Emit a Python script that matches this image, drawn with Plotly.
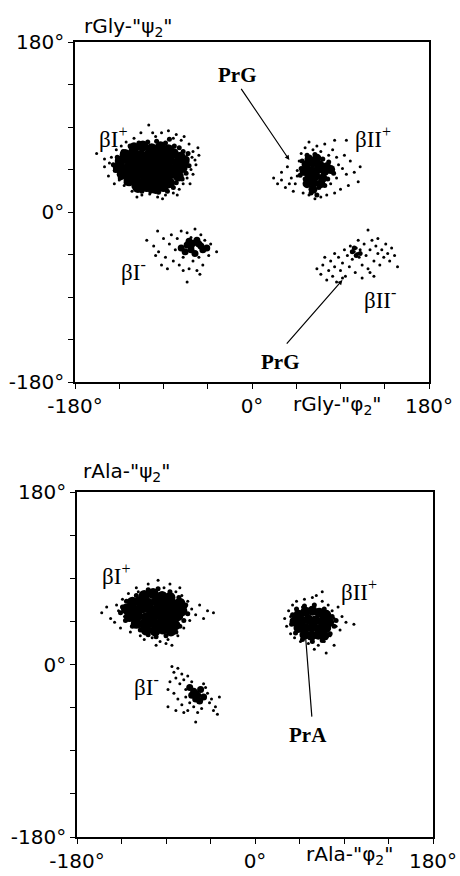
import plotly.graph_objects as go

# ---------------- data (phi, psi) in degrees ----------------
# rGly panel
gly_bIp_dense = [(-120,68),(-111,70),(-102,67),(-93,69),(-85,66),
    (-129,61),(-121,62),(-113,60),(-104,62),(-96,61),(-88,60),(-80,62),(-73,58),
    (-134,54),(-125,55),(-117,53),(-108,55),(-100,54),(-92,53),(-84,55),(-76,52),(-69,54),
    (-136,47),(-127,46),(-119,48),(-110,46),(-102,47),(-94,46),(-86,48),(-78,45),(-71,47),
    (-132,40),(-123,39),(-115,41),(-106,39),(-98,40),(-90,39),(-82,41),(-75,38),
    (-125,33),(-117,32),(-108,34),(-100,32),(-92,33),(-84,31),
    (-116,26),(-107,27),(-98,25),(-90,27)]
gly_bIp_mid = [(-141,50),(-139,44),(-137,58),(-131,64),(-124,70),(-115,73),(-106,74),(-97,75),
    (-88,73),(-79,70),(-70,64),(-66,56),(-64,49),(-67,41),(-71,35),(-77,31),(-80,26),(-86,22),
    (-95,21),(-103,22),(-112,22),(-120,27),(-128,31),(-134,36),(-84,77),(-74,68),(-65,62)]
gly_bIp_sparse = [(-158,62),(-150,48),(-146,38),(-143,58),(-140,30),(-138,66),(-128,74),(-120,78),
    (-105,92),(-98,80),(-92,84),(-80,78),(-72,76),(-64,72),(-60,64),(-58,55),(-55,68),(-62,45),
    (-66,36),(-70,30),(-74,24),(-80,20),(-88,18),(-96,16),(-104,19),(-112,18),(-122,22),(-130,28),
    (-135,34),(-66,60),(-60,40),(-57,50),(-85,86),(-113,84),(-140,44),(-145,52),(-150,56),
    (-133,70),(-101,84),(-77,82),(-69,80),(-61,58),(-54,60),(-63,30),(-76,18),(-91,14),(-117,16)]
gly_bIIp_dense = [(55,50),(62,52),(69,50),(76,48),(53,43),(60,44),(67,45),(74,43),(80,45),
    (58,37),(65,38),(72,36),(63,31),(70,30),(58,56),(66,57),(62,24),(56,30)]
gly_bIIp_mid = [(50,46),(51,54),(56,60),(64,61),(72,56),(78,53),(83,41),(77,35),(68,26),(60,20),
    (54,35),(49,39),(66,18),(74,28)]
gly_bIIp_sparse = [(22,36),(26,30),(30,42),(34,26),(36,48),(40,36),(44,30),(46,44),(42,22),(48,54),
    (50,62),(54,68),(58,74),(62,66),(66,70),(70,64),(74,72),(78,60),(82,66),(86,58),(88,50),(92,46),
    (96,40),(100,54),(104,42),(108,32),(110,48),(98,28),(90,24),(84,20),(80,30),(76,18),(70,16),
    (64,14),(58,18),(52,20),(86,36),(94,60),(84,76),(96,76),(50,40),(46,38),(38,30),(30,34)]
gly_bIm_dense = [(-72,-38),(-66,-35),(-60,-33),(-56,-30),(-52,-36),(-62,-40),(-68,-42),(-58,-44),
    (-50,-40),(-46,-38),(-64,-31),(-54,-34),(-62,-36)]
gly_bIm_sparse = [(-107,-30),(-96,-20),(-100,-36),(-95,-42),(-90,-28),(-88,-48),(-84,-34),(-82,-24),
    (-80,-52),(-78,-40),(-76,-28),(-74,-56),(-72,-20),(-70,-48),(-66,-22),(-64,-60),(-62,-27),
    (-60,-52),(-58,-18),(-56,-62),(-54,-48),(-52,-24),(-50,-56),(-48,-30),(-44,-46),(-42,-34),
    (-36,-42),(-66,-74),(-92,-56),(-86,-60),(-70,-62),(-53,-66),(-98,-46)]
gly_bIIm_dense = [(102,-42),(106,-46),(104,-38),(110,-44)]
gly_bIIm_sparse = [(66,-60),(70,-66),(72,-56),(76,-72),(78,-62),(80,-52),(82,-68),(84,-58),(86,-74),
    (88,-48),(90,-62),(92,-54),(94,-40),(95,-68),(97,-46),(99,-58),(100,-36),(102,-50),(104,-42),
    (105,-64),(106,-38),(107,-44),(108,-30),(109,-48),(110,-40),(112,-56),(114,-34),(116,-46),
    (118,-19),(118,-60),(120,-40),(122,-30),(124,-52),(124,-68),(126,-36),(128,-44),(128,-28),
    (130,-56),(132,-40),(134,-48),(136,-34),(138,-44),(140,-52),(142,-38),(145,-46),(148,-58),
    (74,-48),(84,-44),(92,-70),(112,-70),(120,-64)]

# rAla panel
ala_bIp_dense = [(-112,72),(-103,74),(-94,71),(-86,70),
    (-124,65),(-116,66),(-108,64),(-99,66),(-91,65),(-83,63),(-76,64),
    (-130,58),(-122,57),(-114,59),(-105,57),(-97,58),(-89,56),(-81,58),(-74,56),
    (-127,50),(-119,51),(-110,49),(-102,51),(-94,50),(-86,49),(-78,51),
    (-120,43),(-112,42),(-104,44),(-96,42),(-88,43),(-81,41),
    (-110,36),(-101,35),(-93,37),(-85,35)]
ala_bIp_mid = [(-136,54),(-134,60),(-130,66),(-120,72),(-108,78),(-98,79),(-86,76),(-77,70),
    (-70,62),(-68,53),(-72,46),(-76,40),(-80,34),(-90,30),(-100,29),(-108,31),(-116,36),(-124,40),
    (-131,46)]
ala_bIp_sparse = [(-155,54),(-150,60),(-146,48),(-142,44),(-140,62),(-136,38),(-134,68),(-128,74),
    (-126,34),(-120,80),(-116,30),(-108,84),(-104,28),(-98,88),(-96,24),(-92,80),(-88,26),(-86,84),
    (-80,76),(-78,30),(-74,72),(-72,38),(-68,66),(-66,46),(-64,58),(-60,52),(-56,62),(-52,48),
    (-48,56),(-42,54),(-100,20),(-90,22),(-84,20),(-112,26),(-132,50),(-138,56),(-118,76),(-76,80),(-70,60)]
ala_bIIp_dense = [(44,52),(51,55),(58,56),(65,54),(72,52),
    (40,45),(47,46),(54,47),(61,46),(68,45),(75,44),
    (44,38),(51,38),(58,39),(65,37),(72,38),
    (50,31),(57,30),(64,31),(70,30)]
ala_bIIp_mid = [(38,52),(37,42),(42,58),(50,61),(60,62),(70,58),(78,50),(80,40),(76,32),(68,25),
    (58,24),(48,26),(41,33),(82,46)]
ala_bIIp_sparse = [(30,48),(32,40),(34,56),(36,32),(38,62),(40,28),(42,66),(46,24),(50,68),(54,22),
    (58,70),(62,72),(64,20),(68,66),(70,24),(74,62),(76,30),(78,56),(80,48),(82,40),(84,60),(86,36),
    (88,50),(92,44),(100,42),(72,12),(60,16),(48,60),(36,50),(80,20),(68,76)]
ala_bIm_dense = [(-66,-24),(-62,-28),(-58,-32),(-55,-26),(-60,-36),(-52,-34),(-64,-32),(-56,-38),
    (-60,-30)]
ala_bIm_sparse = [(-84,-2),(-82,-8),(-80,-14),(-86,-18),(-78,-4),(-76,-20),(-74,-10),(-72,-16),
    (-70,-26),(-88,-26),(-82,-30),(-78,-36),(-74,-42),(-70,-34),(-68,-48),(-66,-40),(-62,-44),
    (-60,-60),(-58,-50),(-54,-46),(-50,-24),(-48,-30),(-46,-40),(-44,-36),(-42,-48),(-40,-44),
    (-38,-52),(-36,-34),(-88,-44),(-80,-48),(-72,-50),(-64,-18),(-68,-12),(-52,-20)]

tick_vals = [-180, -135, -90, -45, 0, 45, 90, 135, 180]
tick_text = ["-180°", "", "", "", "0°", "", "", "", "180°"]

fig = go.Figure()

def add(points, size, xa, ya):
    fig.add_trace(go.Scatter(
        x=[p[0] for p in points], y=[p[1] for p in points], mode="markers",
        marker=dict(color="black", size=size, line=dict(width=0)),
        xaxis=xa, yaxis=ya, showlegend=False, hoverinfo="skip"))

for pts, s in [(gly_bIp_sparse, 3), (gly_bIp_mid, 5), (gly_bIp_dense, 11),
               (gly_bIIp_sparse, 3), (gly_bIIp_mid, 5), (gly_bIIp_dense, 9),
               (gly_bIm_sparse, 3), (gly_bIm_dense, 7),
               (gly_bIIm_sparse, 3), (gly_bIIm_dense, 5)]:
    add(pts, s, "x", "y")
for pts, s in [(ala_bIp_sparse, 3), (ala_bIp_mid, 5), (ala_bIp_dense, 11),
               (ala_bIIp_sparse, 3), (ala_bIIp_mid, 5), (ala_bIIp_dense, 10),
               (ala_bIm_sparse, 3), (ala_bIm_dense, 7)]:
    add(pts, s, "x2", "y2")

tickfont = dict(family="DejaVu Sans", size=20, color="black")
ax_common = dict(range=[-180, 180], tickvals=tick_vals, ticktext=tick_text,
                 ticks="outside", ticklen=5, tickwidth=1.2, tickcolor="black",
                 showline=True, linecolor="black", linewidth=1.5, mirror=True,
                 showgrid=False, zeroline=False, tickfont=tickfont, fixedrange=True,
                 automargin=False)

fig.update_layout(
    template="none",
    width=460, height=876, plot_bgcolor="white", paper_bgcolor="white",
    margin=dict(l=0, r=0, t=0, b=0, pad=0),
    xaxis=dict(domain=[75/460, 429/460], anchor="y", **ax_common),
    yaxis=dict(domain=[1-382/876, 1-42/876], anchor="x", **ax_common),
    xaxis2=dict(domain=[77/460, 433/460], anchor="y2", **ax_common),
    yaxis2=dict(domain=[1-837/876, 1-492/876], anchor="x2", **ax_common),
)

sans = dict(family="DejaVu Sans", size=20, color="black")
serif = dict(family="Liberation Serif", size=23, color="black")
bold = dict(family="Liberation Serif", size=21, color="black")

# axis titles
for txt, x, y in [('rGly-"ψ<sub>2</sub>"', 0.28, 0.969), ('rGly-"φ<sub>2</sub>"', 0.733, 0.5377),
                  ('rAla-"ψ<sub>2</sub>"', 0.276, 0.461), ('rAla-"φ<sub>2</sub>"', 0.759, 0.024)]:
    fig.add_annotation(text=txt, x=x, y=y, xref="paper", yref="paper", showarrow=False,
                       font=sans, xanchor="center", yanchor="middle")

# cluster labels
for txt, x, y, xa, ya in [("βI<sup>+</sup>", -141, 79, "x", "y"), ("βII<sup>+</sup>", 123, 79, "x", "y"),
                          ("βI<sup>-</sup>", -121, -62, "x", "y"), ("βII<sup>-</sup>", 130, -92, "x", "y"),
                          ("βI<sup>+</sup>", -141, 94, "x2", "y2"), ("βII<sup>+</sup>", 105, 77, "x2", "y2"),
                          ("βI<sup>-</sup>", -110, -22, "x2", "y2")]:
    fig.add_annotation(text=txt, x=x, y=y, xref=xa, yref=ya, showarrow=False, font=serif)

# PrG / PrA pointers
fig.add_annotation(text="<b>PrG</b>", x=-15, y=145, xref="x", yref="y", showarrow=False, font=bold)
fig.add_annotation(x=38, y=55, ax=-12, ay=132, xref="x", yref="y", axref="x", ayref="y",
                   text="", showarrow=True, arrowhead=2, arrowsize=0.8, arrowwidth=1.2, arrowcolor="black")
fig.add_annotation(text="<b>PrG</b>", x=28, y=-159, xref="x", yref="y", showarrow=False, font=bold)
fig.add_annotation(x=92, y=-72, ax=34, ay=-141, xref="x", yref="y", axref="x", ayref="y",
                   text="", showarrow=True, arrowhead=2, arrowsize=0.8, arrowwidth=1.2, arrowcolor="black")
fig.add_annotation(text="<b>PrA</b>", x=54, y=-74, xref="x2", yref="y2", showarrow=False, font=bold)
fig.add_annotation(x=51, y=31, ax=57.6, ay=-56, xref="x2", yref="y2", axref="x2", ayref="y2",
                   text="", showarrow=True, arrowhead=0, arrowwidth=1.2, arrowcolor="black")

fig.write_html("out.html", config={"displayModeBar": False},
               post_script="document.body.style.margin='0px';document.body.style.overflow='hidden';")
